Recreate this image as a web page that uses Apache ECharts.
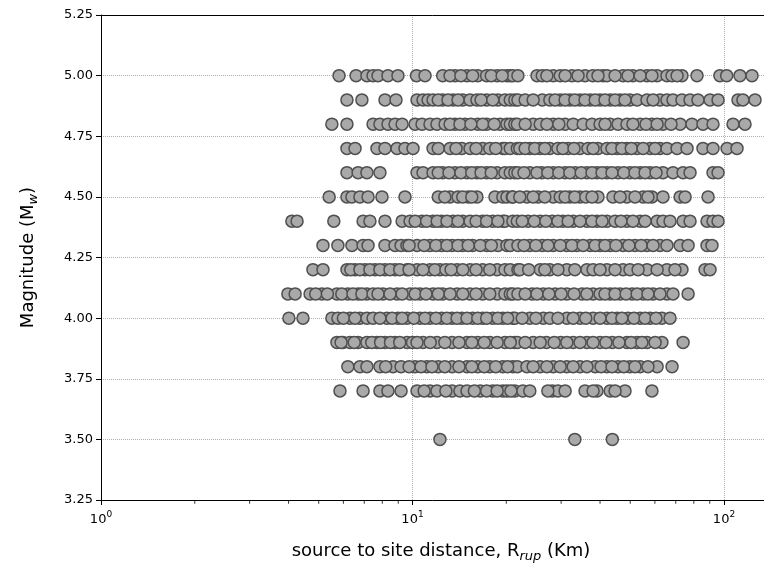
<!DOCTYPE html>
<html>
<head>
<meta charset="utf-8">
<script src="https://cdn.jsdelivr.net/npm/echarts@6/dist/echarts.min.js"></script>
<style>
  body { margin: 0; background: #fff; }
  #main { width: 764px; height: 573px; }
</style>
</head>
<body>
<div id="main"></div>
<script>
// distances (km), one list per magnitude row
// (second line of each list = circles half hidden in the dense chains)
var mags = [5.0, 4.9, 4.8, 4.7, 4.6, 4.5, 4.4, 4.3, 4.2, 4.1, 4.0, 3.9, 3.8, 3.7, 3.5];

var r500 = [5.81, 6.59, 7.14, 7.47, 7.75, 8.34, 8.98, 10.3, 10.97, 12.5, 13.7, 14.96, 16.2, 17.3, 18.7, 20.1, 20.6, 21.0, 21.8,
  25.1, 26.1, 28.3, 29.8, 32.5, 35.8, 37.9, 40.9, 42.1, 47.4, 51.0, 56.6, 61.0, 65.6, 68.1, 73.3, 81.9, 97.0, 102, 112.5, 123,
  13.2, 14.3, 15.6, 17.9, 19.4, 27.0, 30.9, 34.0, 39.4, 44.7, 49.2, 53.8, 58.7, 70.7];
var r490 = [6.16, 6.88, 8.16, 8.85, 10.34, 10.81, 11.22, 11.64, 12.5, 13.5, 14.5, 15.3, 16.1, 17.3, 18.8, 19.8, 20.6, 21.3, 21.8,
  23.0, 26.1, 27.6, 29.8, 32.0, 34.5, 37.2, 40.0, 43.1, 46.4, 49.9, 52.6, 56.6, 62.3, 65.6, 68.6, 73.3, 77.8, 82.5, 90.2, 95.7,
  110.9, 115, 125.8,
  12.1, 13.0, 14.0, 16.6, 18.1, 24.4, 28.7, 30.9, 33.2, 35.8, 38.6, 41.5, 44.7, 48.1, 59.2];
var r480 = [5.51, 6.16, 7.47, 7.86, 8.34, 8.79, 9.26, 10.19, 10.73, 11.38, 11.98, 12.72, 13.69, 14.74, 16.2, 17.3, 19.1, 20.1,
  20.6, 21.3, 21.7, 24.4, 25.7, 28.3, 30.9, 32.8, 35.3, 37.7, 40.0, 43.1, 45.7, 48.8, 53.8, 58.7, 63.7, 72.3, 78.9, 85.6, 92.2,
  106.9, 116.8,
  13.2, 14.2, 15.4, 16.8, 18.3, 23.0, 27.0, 29.5, 41.5, 51.0, 56.2, 61.0, 67.6];
var r470 = [6.16, 6.54, 7.69, 8.16, 8.92, 9.46, 10.04, 11.64, 12.1, 13.2, 14.4, 15.3, 16.8, 19.5, 19.8, 20.6, 21.7, 22.1, 23.8,
  25.7, 27.6, 29.3, 31.6, 34.5, 36.6, 39.4, 42.1, 45.4, 48.8, 52.6, 57.9, 62.3, 65.6, 70.7, 76.1, 85.6, 92.2, 102.3, 110.1,
  13.8, 16.0, 17.7, 18.5, 23.0, 24.7, 26.6, 30.4, 33.0, 38.0, 43.7, 47.0, 50.4, 55.0, 60.1];
var r460 = [6.16, 6.69, 7.14, 7.86, 10.34, 10.81, 11.64, 12.5, 13.69, 14.96, 16.1, 17.3, 18.7, 19.8, 20.6, 21.3, 21.8, 23.8,
  26.0, 28.3, 30.9, 33.3, 36.3, 39.1, 42.1, 45.7, 49.9, 53.8, 57.9, 63.7, 68.6, 73.9, 77.8, 92.2, 95.7,
  12.1, 13.1, 14.3, 15.5, 16.6, 17.9, 22.8, 25.1, 27.2, 29.5, 32.0, 34.8, 37.7, 40.6, 43.7, 47.7, 51.8, 55.8, 60.5];
var r450 = [5.40, 6.16, 6.39, 6.78, 7.20, 7.98, 9.46, 12.1, 13.2, 14.0, 15.1, 16.1, 18.4, 19.5, 20.1, 20.9, 21.0, 23.3, 25.3,
  28.3, 29.8, 32.0, 34.5, 39.4, 44.0, 48.8, 55.0, 58.7, 63.7, 72.3, 75.0, 88.9,
  12.7, 14.5, 15.5, 22.1, 24.4, 26.6, 30.9, 33.2, 36.0, 37.7, 46.4, 51.8, 57.0];
var r440 = [4.10, 4.26, 5.59, 6.94, 7.30, 8.16, 9.26, 9.82, 10.73, 11.64, 12.4, 13.5, 14.5, 15.3, 16.8, 18.1, 19.5, 19.8, 21.0,
  21.7, 23.5, 25.7, 28.1, 30.4, 32.8, 36.3, 39.1, 42.1, 44.7, 48.8, 53.8, 61.0, 63.7, 67.1, 73.9, 77.8, 88.2, 92.2, 95.7,
  10.2, 11.1, 12.0, 12.9, 14.0, 16.0, 17.3, 18.8, 22.5, 24.6, 26.8, 29.3, 31.6, 34.5, 37.7, 40.6, 46.7, 51.0, 55.8];
var r430 = [5.16, 5.76, 6.39, 6.94, 7.20, 8.16, 8.79, 9.19, 9.60, 10.34, 11.38, 12.4, 13.4, 14.5, 15.6, 17.3, 18.8, 20.1, 20.6,
  21.8, 23.8, 26.1, 28.3, 31.3, 33.7, 37.2, 40.0, 43.1, 47.4, 51.8, 56.6, 62.3, 65.6, 72.3, 76.7, 88.2, 91.5,
  9.75, 10.9, 11.9, 12.9, 14.0, 15.1, 16.5, 17.9, 22.8, 24.9, 27.2, 29.8, 32.5, 35.3, 38.6, 41.5, 45.0, 49.5, 54.2, 59.2];
var r420 = [4.79, 5.16, 6.16, 6.54, 7.04, 7.58, 8.16, 8.79, 9.60, 10.34, 11.38, 12.25, 13.9, 15.3, 16.8, 18.7, 19.8, 20.6, 21.8,
  22.1, 25.7, 27.6, 31.3, 36.3, 38.0, 42.1, 47.4, 49.9, 56.6, 65.6, 73.3, 86.9, 90.2,
  6.34, 6.78, 7.30, 7.86, 8.47, 9.1, 9.75, 10.8, 11.8, 12.8, 13.3, 14.5, 16.0, 17.7, 23.6, 26.6, 29.3, 33.2, 40.0, 44.7,
  53.0, 61.0, 69.6];
var r410 = [3.98, 4.20, 4.69, 5.12, 5.72, 6.20, 6.69, 7.14, 8.04, 8.92, 9.82, 10.57, 11.64, 12.5, 13.9, 15.3, 16.8, 18.7, 19.8,
  20.6, 21.0, 21.8, 24.2, 26.3, 28.7, 31.3, 35.0, 38.0, 40.0, 43.1, 46.4, 50.7, 55.0, 59.2, 65.6, 68.6, 76.7,
  4.89, 5.33, 5.93, 6.44, 6.88, 7.47, 7.75, 8.47, 9.26, 10.2, 11.05, 12.1, 13.2, 14.5, 16.0, 17.7, 23.0, 25.1, 27.4, 30.0,
  33.0, 36.3, 41.5, 44.7, 48.5, 52.6, 57.0, 62.3];
var r400 = [4.01, 4.45, 5.51, 5.76, 6.30, 6.78, 7.14, 7.47, 8.28, 8.98, 9.60, 10.57, 11.38, 12.4, 13.4, 14.4, 15.6, 16.8, 18.1,
  19.5, 21.0, 21.3, 23.8, 26.3, 27.6, 31.3, 34.5, 38.0, 42.1, 45.4, 49.2, 53.8, 57.9, 63.2, 67.1,
  6.0, 6.54, 7.86, 8.6, 9.26, 10.1, 10.97, 11.9, 12.9, 13.9, 14.96, 16.2, 17.3, 18.8, 20.2, 22.5, 24.9, 29.3, 32.8, 36.0,
  40.0, 43.7, 47.0, 51.4, 55.8, 60.5];
var r390 = [5.72, 5.98, 6.30, 6.69, 7.14, 7.69, 8.16, 8.79, 9.60, 10.81, 11.98, 13.4, 14.96, 16.2, 17.7, 19.8, 21.3, 21.7, 24.4,
  26.9, 29.9, 32.8, 36.3, 40.0, 43.8, 48.8, 52.6, 56.6, 63.2, 73.9,
  5.9, 6.5, 7.4, 7.9, 8.5, 9.1, 10.0, 10.34, 11.4, 12.7, 14.1, 15.5, 17.0, 18.7, 20.6, 23.0, 25.7, 28.5, 31.3, 34.5,
  38.0, 41.8, 46.0, 50.3, 54.5, 60.1];
var r380 = [6.20, 6.78, 7.14, 7.86, 8.66, 9.19, 10.19, 11.13, 12.1, 13.4, 14.96, 16.2, 17.7, 19.5, 21.0, 21.7, 23.3, 25.7, 28.3,
  31.3, 34.5, 38.6, 42.1, 45.7, 49.9, 53.8, 61.0, 68.1,
  8.2, 9.75, 10.65, 11.55, 12.7, 14.1, 15.5, 17.0, 18.5, 20.2, 24.4, 27.0, 29.8, 32.8, 36.3, 40.3, 43.7, 47.7, 51.8, 57.0];
var r370 = [5.85, 6.94, 7.86, 8.34, 9.19, 10.34, 11.38, 11.98, 13.4, 14.2, 14.96, 16.5, 18.1, 19.5, 20.1, 21.3, 22.6, 23.8,
  28.1, 29.3, 30.9, 35.8, 39.1, 43.1, 48.1, 58.7,
  10.9, 12.8, 15.8, 17.3, 18.7, 20.7, 27.2, 38.0, 44.7];
var r350 = [12.25, 33.2, 43.8];

var rows = [r500, r490, r480, r470, r460, r450, r440, r430, r420, r410, r400, r390, r380, r370, r350];

// axis ticks
var xMajor = [1, 10, 100];
var xMinor = [2, 3, 4, 5, 6, 7, 8, 9, 20, 30, 40, 50, 60, 70, 80, 90];
// the axes run on past the right edge of the picture (it is cropped there)
var xMin = 1, xMax = 152.4;
var yMin = 3.25, yMax = 5.25, yStep = 0.25;

var points = [];
rows.forEach(function (row, i) {
    row.forEach(function (d) {
        points.push([d, mags[i]]);
    });
});

var minorData = xMinor.map(function (v) { return [v, yMin]; });

var myChart = echarts.init(document.getElementById('main'));

var option = {
    animation: false,
    textStyle: { fontFamily: 'DejaVu Sans' },
    grid: { left: 101, top: 15, width: 680, bottom: 73, outerBoundsMode: 'none', containLabel: false },
    xAxis: [{
        type: 'log',
        logBase: 10,
        min: xMin,
        max: xMax,
        position: 'bottom',
        name: '{a|source to site distance, R}{sub|rup}{a| (Km)}',
        nameLocation: 'middle',
        nameGap: 39,
        nameTextStyle: {
            rich: {
                a: { fontSize: 18, color: '#000', lineHeight: 24, verticalAlign: 'middle' },
                sub: { fontSize: 13, fontStyle: 'italic', color: '#000', lineHeight: 12, verticalAlign: 'bottom' }
            }
        },
        axisLine: { show: true, onZero: false, lineStyle: { color: '#000' } },
        axisTick: { show: true, length: 5, lineStyle: { color: '#000' } },
        axisLabel: {
            margin: 10, showMaxLabel: false,
            formatter: function (v) {
                var e = Math.round(Math.log10(v));
                if (xMajor.indexOf(Math.pow(10, e)) < 0 || Math.abs(v - Math.pow(10, e)) > 1e-6) return '';
                return '{b|10}{sup|' + e + '}';
            },
            rich: {
                b: { fontSize: 13, color: '#000', lineHeight: 20, verticalAlign: 'middle' },
                sup: { fontSize: 9, color: '#000', lineHeight: 10, verticalAlign: 'top' }
            }
        },
        splitLine: { show: true, lineStyle: { color: '#b0b0b0', type: 'dotted', width: 1 } }
    }, {
        // top spine
        type: 'log',
        logBase: 10,
        min: xMin,
        max: xMax,
        position: 'top',
        axisLine: { show: true, onZero: false, lineStyle: { color: '#000' } },
        axisTick: { show: false },
        axisLabel: { show: false },
        splitLine: { show: false }
    }],
    yAxis: {
        type: 'value',
        min: yMin,
        max: yMax,
        interval: yStep,
        name: '{a|Magnitude (M}{sub|w}{a|)}',
        nameLocation: 'middle',
        nameRotate: 90,
        nameGap: 61,
        nameTextStyle: {
            rich: {
                a: { fontSize: 18, color: '#000', lineHeight: 24, verticalAlign: 'middle' },
                sub: { fontSize: 13, fontStyle: 'italic', color: '#000', lineHeight: 12, verticalAlign: 'bottom' }
            }
        },
        axisLine: { show: true, lineStyle: { color: '#000' } },
        axisTick: { show: true, length: 5, lineStyle: { color: '#000' } },
        axisLabel: {
            color: '#000', fontSize: 13, margin: 8,
            formatter: function (v) { return v.toFixed(2); }
        },
        splitLine: { show: true, lineStyle: { color: '#b0b0b0', type: 'dotted', width: 1 } }
    },
    series: [{
        type: 'scatter',
        data: points,
        symbolSize: 12,
        itemStyle: { color: '#a9a9a9', borderColor: '#505050', borderWidth: 1.5, opacity: 1 }
    }, {
        // minor log ticks under the x axis, drawn as tiny vertical bars
        type: 'scatter',
        data: minorData,
        symbol: 'rect',
        symbolSize: [1, 3.5],
        symbolOffset: [0, 2],
        clip: false,
        silent: true,
        z: 10,
        itemStyle: { color: '#000', borderWidth: 0 }
    }]
};

myChart.setOption(option);
</script>
</body>
</html>
